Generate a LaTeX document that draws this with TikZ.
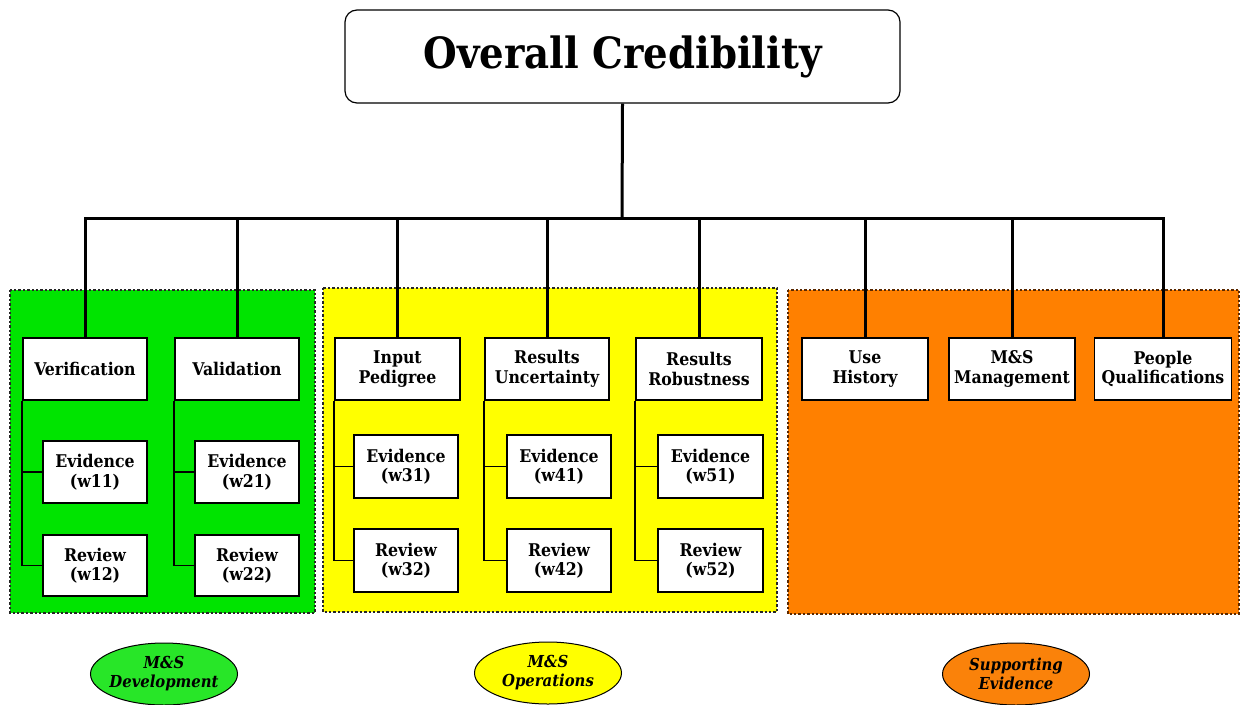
\documentclass[tikz,border=0pt]{standalone}
\usepackage{fontspec}
\setmainfont{DejaVu Serif}
\newfontfamily\cond{DejaVu Serif Condensed}
\usetikzlibrary{shapes.geometric}
\definecolor{pgreen}{RGB}{0,228,0}
\definecolor{pyellow}{RGB}{255,255,0}
\definecolor{porange}{RGB}{255,128,0}
\definecolor{egreen}{RGB}{40,230,40}
\definecolor{eorange}{RGB}{250,130,10}
\definecolor{obord}{RGB}{90,40,0}
\tikzset{
  panel/.style={line width=2.4pt, dash pattern=on 2.4pt off 2pt},
  boxnode/.style={draw=black, fill=white, line width=1.6pt, align=center,
    inner sep=0pt, font=\cond\bfseries\fontsize{17.5}{19.5}\selectfont},
  topbox/.style={draw=black, fill=white, line width=1.2pt, rounded corners=12pt,
    minimum width=555pt, minimum height=93pt, inner sep=0pt,
    font=\cond\bfseries\fontsize{43}{48}\selectfont},
  tree/.style={line width=3pt, black},
  sub/.style={line width=1.8pt, black},
  legend/.style={ellipse, draw=black, line width=1pt, minimum width=147pt,
    minimum height=62pt, inner sep=0pt},
  legendtext/.style={align=center, inner sep=0pt,
    font=\cond\bfseries\itshape\fontsize{16.5}{19}\selectfont},
}
\begin{document}
\begin{tikzpicture}[x=1pt,y=-1pt]
\useasboundingbox (0,0) rectangle (1241,704);
\fill[white] (0,0) rectangle (1241,704);
% panels
\draw[panel, fill=pgreen, draw=black!85] (10,290) rectangle (315,613);
\draw[panel, fill=pyellow, draw=black!85] (323,288) rectangle (777,612);
\draw[panel, fill=porange, draw=obord] (788,290) rectangle (1239,614);
% top
\node[topbox] (top) at (622.5,56.5) {Overall Credibility};
\coordinate (busL) at (85,218);
\coordinate (busR) at (1163,218);
\coordinate (busM) at (622,218);
% green
\node[boxnode, minimum width=124pt, minimum height=62pt] (ver) at (85,369) {Verification};
\node[boxnode, minimum width=124pt, minimum height=62pt] (val) at (237,369) {Validation};
\node[boxnode, minimum width=104pt, minimum height=62pt] (e11) at (95,472) {Evidence\\(w11)};
\node[boxnode, minimum width=104pt, minimum height=61pt] (r12) at (95,565.5) {Review\\(w12)};
\node[boxnode, minimum width=104pt, minimum height=62pt] (e21) at (247,472) {Evidence\\(w21)};
\node[boxnode, minimum width=104pt, minimum height=61pt] (r22) at (247,565.5) {Review\\(w22)};
% yellow
\node[boxnode, minimum width=125pt, minimum height=62pt] (ip) at (397.5,369) {Input\\Pedigree};
\node[boxnode, minimum width=124pt, minimum height=62pt] (ru) at (547,369) {Results\\Uncertainty};
\node[boxnode, minimum width=126pt, minimum height=62pt] (rr) at (699,369) {Results\\Robustness};
\node[boxnode, minimum width=104pt, minimum height=63pt] (e31) at (406,466.5) {Evidence\\(w31)};
\node[boxnode, minimum width=104pt, minimum height=63pt] (r32) at (406,560.5) {Review\\(w32)};
\node[boxnode, minimum width=104pt, minimum height=63pt] (e41) at (559,466.5) {Evidence\\(w41)};
\node[boxnode, minimum width=104pt, minimum height=63pt] (r42) at (559,560.5) {Review\\(w42)};
\node[boxnode, minimum width=105pt, minimum height=63pt] (e51) at (710.5,466.5) {Evidence\\(w51)};
\node[boxnode, minimum width=105pt, minimum height=63pt] (r52) at (710.5,560.5) {Review\\(w52)};
% orange
\node[boxnode, minimum width=126pt, minimum height=62pt] (uh) at (865,369) {Use\\History};
\node[boxnode, minimum width=126pt, minimum height=62pt] (mm) at (1012,369) {M\&S\\Management};
\node[boxnode, minimum width=137pt, minimum height=62pt] (pq) at (1163,369) {People\\Qualifications};
% tree
\draw[tree] (top.south) -- (busM);
\draw[tree, line cap=rect] (busL) -- (busR);
\foreach \n in {ver,val,ip,ru,rr,uh,mm,pq}{
  \draw[tree] (\n.north) -- (\n.north |- busL);
}
% sub connectors
\foreach \p/\a/\b in {ver/e11/r12, val/e21/r22, ip/e31/r32, ru/e41/r42, rr/e51/r52}{
  \draw[sub] (\p.south west) -- (\p.south west |- \b.west) -- (\b.west);
  \draw[sub] (\p.south west |- \a.west) -- (\a.west);
}
% legend
\node[legend, fill=egreen, label={[legendtext]center:M\&S\\Development}] (lg) at (164,674) {};
\node[legend, fill=pyellow, label={[legendtext]center:M\&S\\Operations}] (ly) at (548,673) {};
\node[legend, fill=eorange, label={[legendtext]center:Supporting\\Evidence}] (lo) at (1016,674) {};
\end{tikzpicture}
\end{document}
